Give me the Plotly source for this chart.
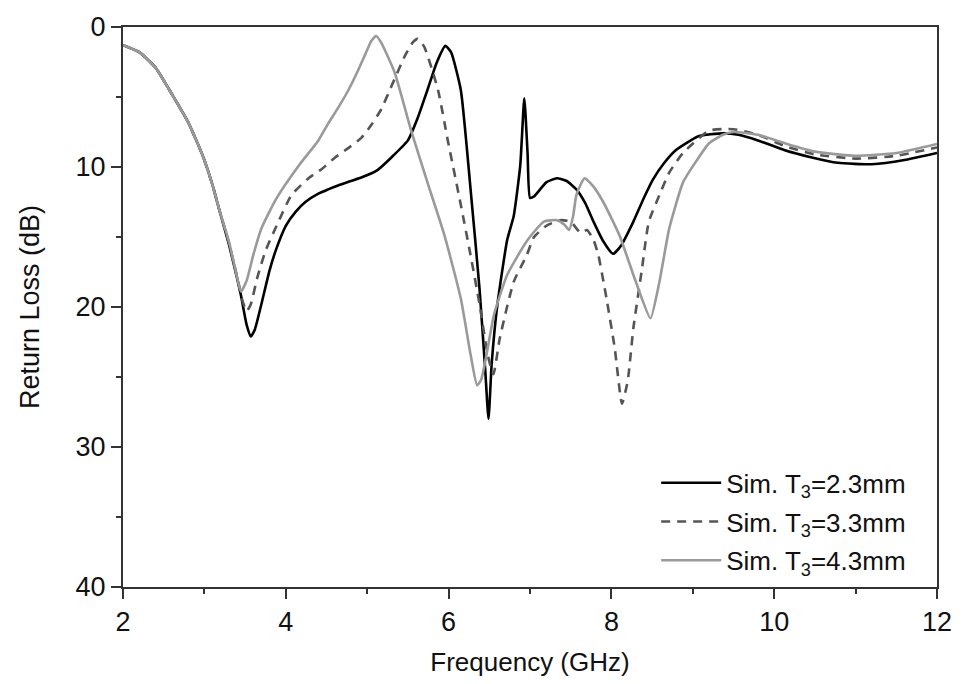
import plotly.graph_objects as go

# T3 = 2.3 mm (solid black)
x_a = [2.0, 2.2, 2.4, 2.57, 2.8, 2.98, 3.1, 3.18, 3.3, 3.4, 3.45, 3.52, 3.57, 3.62, 3.7, 3.8,
       3.88, 4.0, 4.12, 4.24, 4.4, 4.52, 4.65, 4.8, 4.95, 5.13, 5.3, 5.5, 5.62, 5.74, 5.85,
       5.96, 6.03, 6.15, 6.27, 6.38, 6.45, 6.49, 6.53, 6.6, 6.72, 6.8, 6.88, 6.93, 6.97, 7.0,
       7.05, 7.2, 7.33, 7.45, 7.57, 7.68, 7.78, 7.9, 8.02, 8.12, 8.27, 8.4, 8.51, 8.65, 8.79,
       9.07, 9.37, 9.56, 9.8, 10.13, 10.45, 10.78, 11.2, 11.6, 12.0]
y_a = [1.3, 1.8, 2.9, 4.5, 6.8, 9.2, 11.3, 13.0, 15.5, 17.9, 19.2, 21.3, 22.1, 21.6, 19.8, 17.4,
       15.9, 14.2, 13.2, 12.5, 11.9, 11.6, 11.3, 11.0, 10.7, 10.2, 9.3, 8.1, 6.5, 4.5, 2.6,
       1.35, 1.8, 4.5, 11.6, 18.7, 24.5, 28.0, 24.0, 19.8, 15.2, 13.5, 9.9, 5.1, 9.0, 12.2,
       12.1, 11.1, 10.8, 11.0, 11.6, 12.6, 13.9, 15.3, 16.2, 15.6, 13.9, 12.2, 10.9, 9.7, 8.8,
       7.8, 7.6, 7.7, 8.1, 8.8, 9.3, 9.7, 9.8, 9.5, 9.0]

# T3 = 3.3 mm (dashed dark grey)
x_b = [2.0, 2.2, 2.4, 2.57, 2.8, 2.98, 3.1, 3.18, 3.3, 3.4, 3.47, 3.52, 3.57, 3.65, 3.75, 3.91,
       4.07, 4.28, 4.45, 4.61, 4.78, 4.93, 5.05, 5.17, 5.3, 5.46, 5.56, 5.62, 5.7, 5.87, 5.99,
       6.15, 6.27, 6.38, 6.48, 6.55, 6.63, 6.8, 6.96, 7.05, 7.2, 7.37, 7.5, 7.62, 7.7, 7.78,
       7.84, 7.94, 8.04, 8.13, 8.2, 8.27, 8.37, 8.46, 8.59, 8.71, 8.88, 9.2, 9.5, 9.8, 10.13,
       10.5, 11.0, 11.5, 12.0]
y_b = [1.3, 1.8, 2.9, 4.5, 6.8, 9.2, 11.3, 13.0, 15.4, 17.8, 19.6, 20.3, 19.8, 17.9, 16.0, 13.9,
       12.0, 10.8, 10.1, 9.3, 8.6, 7.9, 7.0, 5.9, 4.2, 2.1, 1.1, 0.85, 1.4, 4.5, 8.1,
       12.7, 16.3, 19.8, 23.4, 24.8, 22.2, 18.2, 16.3, 15.0, 14.2, 13.8, 13.9, 14.7, 14.5, 15.2,
       16.3, 19.4, 22.9, 26.9, 25.3, 21.5, 17.5, 13.9, 12.0, 10.4, 9.0, 7.4, 7.3, 7.7, 8.5,
       9.1, 9.4, 9.2, 8.6]

# T3 = 4.3 mm (solid light grey)
x_c = [2.0, 2.2, 2.4, 2.57, 2.8, 2.98, 3.1, 3.18, 3.3, 3.38, 3.45, 3.52, 3.6, 3.7, 3.88, 4.16,
       4.4, 4.52, 4.65, 4.77, 4.88, 4.98, 5.05, 5.11, 5.18, 5.34, 5.54, 5.74, 5.95, 6.15, 6.27,
       6.35, 6.4, 6.45, 6.56, 6.72, 6.96, 7.17, 7.33, 7.42, 7.48, 7.53, 7.57, 7.67, 7.78, 7.9,
       8.1, 8.3, 8.48, 8.59, 8.71, 8.88, 9.04, 9.2, 9.37, 9.5, 9.8, 10.13, 10.5, 11.0, 11.5, 12.0]
y_c = [1.3, 1.8, 2.9, 4.5, 6.8, 9.2, 11.3, 13.0, 15.3, 17.3, 18.9, 18.1, 16.3, 14.4, 12.3, 9.9,
       8.1, 6.9, 5.7, 4.5, 3.2, 1.9, 1.0, 0.64, 1.2, 3.3, 7.4, 11.1, 14.9, 19.4, 23.4,
       25.6, 25.2, 23.9, 20.5, 17.7, 15.3, 13.9, 13.8, 14.1, 14.5, 13.5, 12.0, 10.8, 11.4, 12.5,
       14.9, 18.2, 20.8, 18.2, 14.4, 11.1, 9.6, 8.3, 7.7, 7.5, 7.7, 8.3, 8.9, 9.2, 9.0, 8.35]

names = ["Sim. T<sub>3</sub>=2.3mm", "Sim. T<sub>3</sub>=3.3mm", "Sim. T<sub>3</sub>=4.3mm"]
x_ticks = [2, 4, 6, 8, 10, 12]
y_ticks = [0, 10, 20, 30, 40]

FONT = "Liberation Sans, Arial, sans-serif"

fig = go.Figure()
fig.add_trace(go.Scatter(x=x_a, y=y_a, mode="lines", name=names[0], legendgroup="a",
                         line=dict(color="#000000", width=2.6, shape="spline", smoothing=0.5)))
fig.add_trace(go.Scatter(x=x_b, y=y_b, mode="lines", name=names[1], legendgroup="b",
                         line=dict(color="#555555", width=2.6, dash="9px,7px",
                                   shape="spline", smoothing=0.5)))
fig.add_trace(go.Scatter(x=x_c, y=y_c, mode="lines", name=names[2], legendgroup="c",
                         line=dict(color="#9a9a9a", width=2.6, shape="spline", smoothing=0.5)))

axis_common = dict(showline=True, linecolor="#333333", linewidth=2, mirror=True,
                   ticks="outside", ticklen=10, tickwidth=2, tickcolor="#333333",
                   showgrid=False, zeroline=False,
                   tickfont=dict(family=FONT, size=27, color="#111111"))

fig.update_layout(
    width=964, height=684,
    margin=dict(l=123, r=22, t=23, b=96),
    paper_bgcolor="white", plot_bgcolor="white",
    font=dict(family=FONT, color="#111111"),
    showlegend=True,
    legend=dict(x=0.655, y=0.228, xanchor="left", yanchor="top",
                bgcolor="rgba(0,0,0,0)", borderwidth=0,
                font=dict(family=FONT, size=26, color="#111111"),
                itemwidth=60, traceorder="grouped", tracegroupgap=2),
    xaxis=dict(range=[2, 12], tickvals=x_ticks, ticktext=[str(v) for v in x_ticks],
               minor=dict(dtick=1, ticks="outside", ticklen=5, tickwidth=2, tickcolor="#333333"),
               title=dict(text="Frequency (GHz)", font=dict(family=FONT, size=26), standoff=16),
               **axis_common),
    yaxis=dict(range=[40, 0], tickvals=y_ticks, ticktext=[str(v) for v in y_ticks],
               minor=dict(dtick=5, ticks="outside", ticklen=5, tickwidth=2, tickcolor="#333333"),
               title=dict(text="Return Loss (dB)", font=dict(family=FONT, size=27), standoff=28),
               **axis_common),
)

fig.write_html("out.html")
